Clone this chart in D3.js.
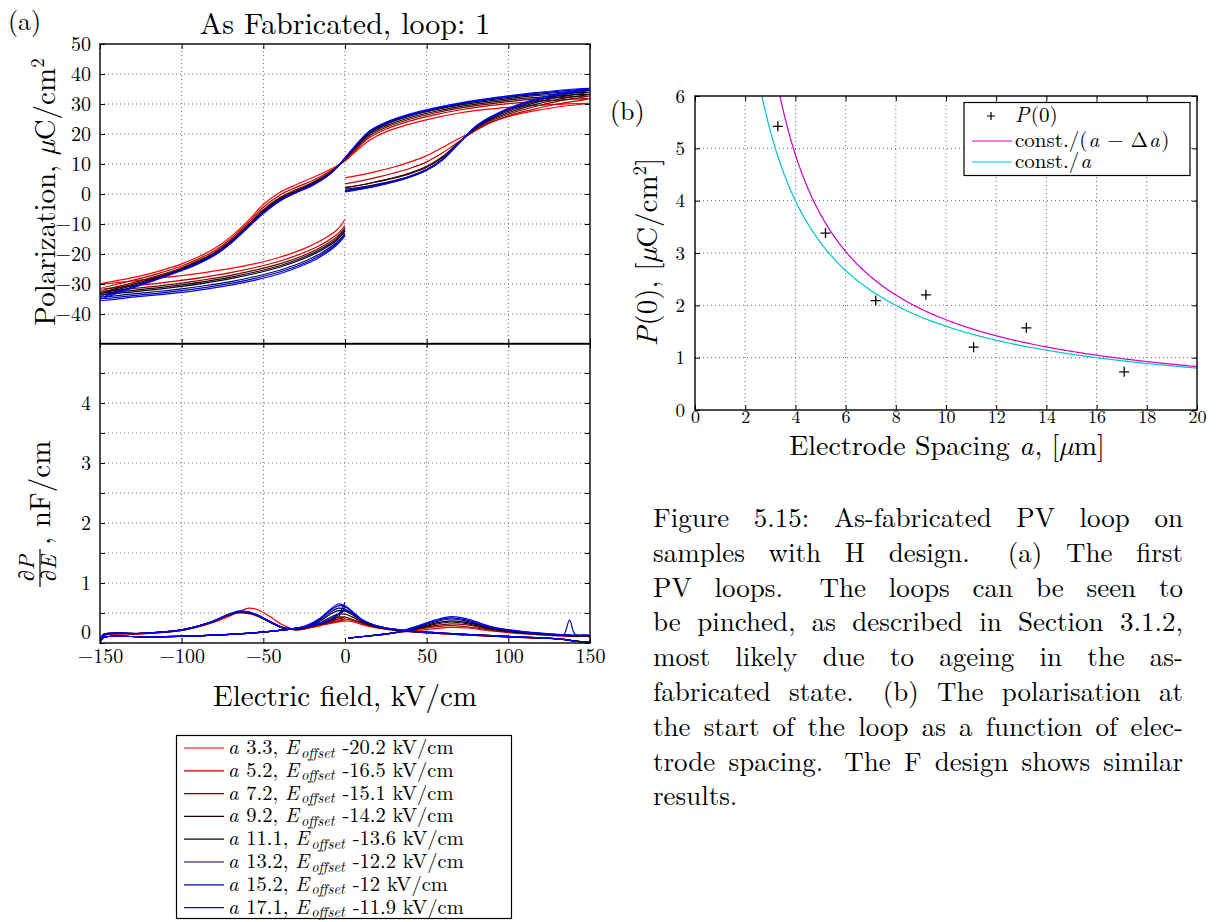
<!DOCTYPE html>
<html>
<head>
<meta charset="utf-8">
<script src="https://cdn.jsdelivr.net/npm/d3@7"></script>
<style>
  body { margin: 0; background: #fff; }
  svg { display: block; }
  svg text { fill: #000; font-family: "Latin Modern Roman", "CMU Serif", "Noto Serif", "Liberation Serif", "DejaVu Serif", "Tinos", "Nimbus Roman", "FreeSerif", "Times New Roman", Times, serif !important; }
</style>
</head>
<body>
<svg id="fig" width="1218" height="922"></svg>
<script>
// ---------- data: panel (a), first PV loops ----------
const spacings = [3.3, 5.2, 7.2, 9.2, 11.1, 13.2, 15.2, 17.1];
const offsets = ["-20.2", "-16.5", "-15.1", "-14.2", "-13.6", "-12.2", "-12", "-11.9"];

// field values (kV/cm) of the three branches of a loop
const riseE = [0, 10, 20, 30, 40, 50, 60, 70, 80, 90, 100, 115, 130, 150];
const fallE = [150, 130, 115, 100, 85, 70, 55, 40, 25, 15, 5, 0, -5, -10, -20, -30, -40, -50, -60, -70, -80, -90, -100, -115, -130, -150];
const returnE = [-150, -130, -115, -100, -85, -70, -55, -40, -25, -15, -5, 0];

// polarization (uC/cm^2), one row per electrode spacing
const pRise = [
  [5.4, 6.4, 7.6, 9.0, 10.7, 12.8, 15.6, 18.6, 21.3, 24.0, 25.8, 27.6, 29.0, 30.3],
  [3.4, 4.4, 5.6, 7.0, 8.6, 10.7, 13.8, 17.6, 21.2, 24.0, 26.1, 28.2, 30.0, 31.8],
  [2.1, 3.0, 4.2, 5.5, 7.1, 9.2, 12.6, 17.4, 21.6, 24.5, 26.6, 29.0, 30.9, 32.7],
  [2.2, 3.0, 4.1, 5.3, 6.8, 8.9, 12.3, 17.3, 21.9, 24.9, 27.1, 29.6, 31.5, 33.3],
  [1.2, 2.0, 3.1, 4.3, 5.9, 8.1, 11.8, 17.2, 22.1, 25.3, 27.6, 30.2, 32.2, 34.0],
  [1.6, 2.3, 3.3, 4.5, 6.0, 8.2, 11.7, 17.1, 22.3, 25.6, 28.0, 30.7, 32.7, 34.6],
  [1.0, 1.8, 2.8, 4.1, 5.7, 7.9, 11.5, 17.0, 22.4, 25.8, 28.3, 31.1, 33.1, 35.0],
  [0.7, 1.6, 2.7, 4.0, 5.7, 7.9, 11.5, 17.0, 22.6, 26.0, 28.6, 31.4, 33.4, 35.3]
];
const pFall = [
  [30.3, 29.9, 29.5, 28.9, 28.1, 27.0, 25.4, 23.4, 20.7, 17.9, 13.4, 11.0, 9.3, 7.9, 5.4, 3.1, 0.5, -3.5, -9.3, -14.3, -18.2, -21.0, -23.3, -25.9, -27.9, -30.0],
  [31.8, 31.3, 30.8, 30.1, 29.2, 28.0, 26.4, 24.4, 21.6, 18.8, 13.9, 11.3, 9.1, 7.3, 4.4, 2.2, -0.4, -4.4, -10.0, -15.0, -18.9, -21.7, -24.0, -26.6, -28.8, -31.6],
  [32.7, 32.1, 31.6, 30.8, 29.8, 28.6, 27.0, 25.0, 22.2, 19.4, 14.3, 11.5, 9.0, 6.9, 3.8, 1.5, -1.2, -5.2, -10.6, -15.6, -19.5, -22.3, -24.6, -27.3, -29.6, -32.4],
  [33.3, 32.7, 32.1, 31.3, 30.3, 29.1, 27.5, 25.5, 22.7, 19.9, 14.6, 11.6, 8.9, 6.7, 3.5, 1.1, -1.6, -5.6, -10.9, -15.9, -19.8, -22.6, -24.9, -27.7, -30.1, -33.0],
  [34.0, 33.3, 32.7, 31.8, 30.8, 29.6, 28.0, 26.0, 23.2, 20.3, 14.9, 11.8, 8.9, 6.5, 3.2, 0.8, -1.9, -5.9, -11.1, -16.1, -20.0, -22.8, -25.1, -28.0, -30.5, -33.5],
  [34.6, 33.8, 33.1, 32.2, 31.2, 29.9, 28.3, 26.3, 23.5, 20.6, 15.1, 11.9, 8.9, 6.4, 3.0, 0.6, -2.1, -6.2, -11.3, -16.3, -20.2, -23.0, -25.3, -28.2, -30.9, -34.2],
  [35.0, 34.2, 33.4, 32.5, 31.4, 30.1, 28.5, 26.5, 23.7, 20.8, 15.2, 12.0, 8.8, 6.3, 2.9, 0.5, -2.3, -6.4, -11.4, -16.4, -20.4, -23.2, -25.4, -28.4, -31.1, -34.8],
  [35.3, 34.5, 33.7, 32.7, 31.6, 30.3, 28.7, 26.7, 23.9, 21.0, 15.3, 12.0, 8.8, 6.2, 2.8, 0.4, -2.4, -6.5, -11.5, -16.5, -20.5, -23.3, -25.5, -28.5, -31.3, -35.4]
];
const pReturn = [
  [-30.0, -29.0, -28.1, -27.2, -26.1, -24.8, -23.2, -21.1, -18.2, -15.6, -12.0, -8.5],
  [-31.6, -30.6, -29.8, -28.8, -27.6, -26.2, -24.5, -22.4, -19.5, -17.0, -13.5, -10.5],
  [-32.4, -31.5, -30.7, -29.7, -28.5, -27.1, -25.4, -23.3, -20.4, -17.8, -14.3, -11.3],
  [-33.0, -32.1, -31.3, -30.3, -29.1, -27.7, -26.0, -23.9, -21.0, -18.4, -14.9, -11.9],
  [-33.5, -32.6, -31.8, -30.8, -29.6, -28.2, -26.5, -24.4, -21.5, -18.9, -15.4, -12.4],
  [-34.2, -33.3, -32.5, -31.6, -30.5, -29.2, -27.5, -25.4, -22.5, -19.8, -16.1, -13.1],
  [-34.8, -33.9, -33.1, -32.2, -31.1, -29.8, -28.1, -26.0, -23.1, -20.4, -16.6, -13.6],
  [-35.4, -34.4, -33.6, -32.8, -31.7, -30.4, -28.7, -26.6, -23.6, -20.9, -17.0, -14.0]
];

// dP/dE (nF/cm) along the same loop
const dRiseE = [2, 15, 30, 45, 55, 65, 75, 90, 110, 130, 134, 137.5, 141, 150];
const dFallE = [150, 130, 100, 70, 45, 30, 18, 10, 4, 0, -4, -9, -15, -22, -30, -38, -46, -53, -59, -65, -72, -82, -100, -125, -148, -150];
const dReturnE = [-150, -148, -120, -90, -60, -40, -25, -12, -4, 0];
const dRise = [
  [0.08, 0.12, 0.17, 0.21, 0.24, 0.26, 0.25, 0.2, 0.15, 0.12, 0.115, 0.11, 0.105, 0.1],
  [0.08, 0.12, 0.17, 0.23, 0.27, 0.29, 0.27, 0.21, 0.16, 0.125, 0.12, 0.115, 0.11, 0.1],
  [0.08, 0.12, 0.17, 0.24, 0.29, 0.32, 0.3, 0.22, 0.16, 0.13, 0.125, 0.12, 0.115, 0.1],
  [0.08, 0.12, 0.17, 0.25, 0.31, 0.35, 0.32, 0.23, 0.17, 0.13, 0.125, 0.12, 0.115, 0.11],
  [0.08, 0.12, 0.17, 0.26, 0.33, 0.37, 0.34, 0.24, 0.17, 0.135, 0.13, 0.125, 0.12, 0.11],
  [0.08, 0.12, 0.17, 0.27, 0.35, 0.4, 0.36, 0.25, 0.18, 0.14, 0.135, 0.13, 0.125, 0.11],
  [0.08, 0.12, 0.17, 0.28, 0.37, 0.42, 0.38, 0.26, 0.18, 0.14, 0.14, 0.38, 0.14, 0.12],
  [0.08, 0.12, 0.17, 0.29, 0.38, 0.44, 0.4, 0.27, 0.19, 0.145, 0.14, 0.135, 0.13, 0.12]
];
const dFall = [
  [0.03, 0.07, 0.1, 0.14, 0.18, 0.21, 0.26, 0.31, 0.36, 0.37, 0.37, 0.34, 0.29, 0.25, 0.22, 0.3, 0.44, 0.55, 0.58, 0.52, 0.43, 0.33, 0.21, 0.15, 0.12, 0.01],
  [0.03, 0.07, 0.1, 0.14, 0.18, 0.22, 0.27, 0.33, 0.38, 0.4, 0.4, 0.36, 0.3, 0.25, 0.22, 0.26, 0.35, 0.44, 0.49, 0.5, 0.45, 0.34, 0.21, 0.15, 0.12, 0.01],
  [0.03, 0.07, 0.1, 0.14, 0.18, 0.22, 0.27, 0.34, 0.4, 0.43, 0.43, 0.39, 0.32, 0.26, 0.22, 0.25, 0.35, 0.45, 0.5, 0.51, 0.46, 0.34, 0.21, 0.16, 0.13, 0.01],
  [0.03, 0.07, 0.1, 0.15, 0.18, 0.22, 0.28, 0.36, 0.44, 0.48, 0.48, 0.43, 0.34, 0.27, 0.23, 0.25, 0.35, 0.45, 0.5, 0.51, 0.46, 0.35, 0.22, 0.16, 0.13, 0.01],
  [0.03, 0.07, 0.11, 0.15, 0.19, 0.22, 0.28, 0.37, 0.48, 0.53, 0.54, 0.48, 0.37, 0.28, 0.23, 0.25, 0.35, 0.45, 0.51, 0.52, 0.46, 0.35, 0.22, 0.16, 0.13, 0.01],
  [0.03, 0.07, 0.11, 0.15, 0.19, 0.23, 0.29, 0.38, 0.5, 0.56, 0.58, 0.51, 0.39, 0.29, 0.23, 0.25, 0.35, 0.45, 0.51, 0.52, 0.47, 0.35, 0.22, 0.16, 0.14, 0.01],
  [0.03, 0.07, 0.11, 0.15, 0.19, 0.23, 0.3, 0.39, 0.52, 0.6, 0.62, 0.54, 0.41, 0.3, 0.24, 0.26, 0.36, 0.46, 0.52, 0.53, 0.47, 0.35, 0.22, 0.16, 0.14, 0.01],
  [0.03, 0.07, 0.11, 0.15, 0.19, 0.23, 0.3, 0.4, 0.54, 0.62, 0.65, 0.56, 0.42, 0.31, 0.24, 0.26, 0.36, 0.46, 0.52, 0.53, 0.47, 0.35, 0.22, 0.16, 0.14, 0.01]
];
const dReturn = [
  [0.01, 0.09, 0.1, 0.12, 0.16, 0.21, 0.26, 0.31, 0.35, 0.37],
  [0.01, 0.09, 0.1, 0.12, 0.16, 0.21, 0.26, 0.32, 0.37, 0.4],
  [0.01, 0.09, 0.1, 0.12, 0.16, 0.21, 0.26, 0.33, 0.4, 0.44],
  [0.01, 0.09, 0.1, 0.12, 0.16, 0.21, 0.27, 0.34, 0.44, 0.6],
  [0.01, 0.09, 0.1, 0.12, 0.16, 0.21, 0.27, 0.35, 0.48, 0.68],
  [0.01, 0.09, 0.1, 0.12, 0.16, 0.21, 0.27, 0.35, 0.47, 0.55],
  [0.01, 0.09, 0.1, 0.12, 0.16, 0.21, 0.27, 0.36, 0.48, 0.56],
  [0.01, 0.09, 0.1, 0.12, 0.16, 0.21, 0.27, 0.36, 0.48, 0.57]
];

// ---------- data: panel (b), P(0) against electrode spacing ----------
const p0Spacing = [3.3, 5.2, 7.2, 9.2, 11.1, 13.2, 17.1];
const p0Values = [5.42, 3.38, 2.09, 2.2, 1.2, 1.57, 0.73];
const fitConst = 16.0;   // uC/cm^2 * um
const fitShift = 0.72;   // delta a, um

// tick values
const fieldTicks = [-150, -100, -50, 0, 50, 100, 150];
const polTicks = [-40, -30, -20, -10, 0, 10, 20, 30, 40, 50];
const capTicks = [0, 0.5, 1, 1.5, 2, 2.5, 3, 3.5, 4, 4.5];
const spacingTicks = [0, 2, 4, 6, 8, 10, 12, 14, 16, 18, 20];
const p0Ticks = [0, 1, 2, 3, 4, 5, 6];

// ---------- styling ----------
const seriesColors = ["#ff0000", "#b60000", "#6d0000", "#240000", "#000024", "#00006d", "#0000b6", "#0000ff"];
const GRID = "#6a6a6a";
const MU = "\u00b5";
const intFmt = d3.format("d");

const svg = d3.select("#fig");

function styleAxis(g, size) {
  g.attr("font-family", null).attr("font-size", size);
  g.select(".domain").remove();
  g.selectAll(".tick line").attr("stroke", "#000").attr("stroke-width", 1);
  g.selectAll(".tick text").attr("fill", "#000");
}
function frame(x0, y0, w, h) {
  svg.append("rect").attr("x", x0).attr("y", y0).attr("width", w).attr("height", h)
    .attr("fill", "none").attr("stroke", "#000").attr("stroke-width", 1.4);
}
function gridLines(g, xs, ys, xVals, yVals) {
  const [x0, x1] = xs.range(), [y0, y1] = ys.range();
  g.selectAll(null).data(xVals).join("line")
    .attr("x1", d => xs(d)).attr("x2", d => xs(d)).attr("y1", y0).attr("y2", y1)
    .attr("stroke", GRID).attr("stroke-width", 1).attr("stroke-dasharray", "1,3");
  g.selectAll(null).data(yVals).join("line")
    .attr("y1", d => ys(d)).attr("y2", d => ys(d)).attr("x1", x0).attr("x2", x1)
    .attr("stroke", GRID).attr("stroke-width", 1).attr("stroke-dasharray", "1,3");
}

// ---------- panel (a) ----------
const xE = d3.scaleLinear().domain([-150, 150]).range([100, 590]);
const yP = d3.scaleLinear().domain([-50, 50]).range([344, 44]);
const yD = d3.scaleLinear().domain([0, 5]).range([643, 343]);

svg.append("defs").call(d => {
  d.append("clipPath").attr("id", "clipTop").append("rect").attr("x", 100).attr("y", 44).attr("width", 490).attr("height", 300);
  d.append("clipPath").attr("id", "clipBot").append("rect").attr("x", 100).attr("y", 343).attr("width", 490).attr("height", 300);
  d.append("clipPath").attr("id", "clipB").append("rect").attr("x", 695).attr("y", 96).attr("width", 502).attr("height", 314);
});

gridLines(svg.append("g"), xE, yP, [-100, -50, 0, 50, 100], [-40, -30, -20, -10, 0, 10, 20, 30, 40]);
gridLines(svg.append("g"), xE, yD, [-100, -50, 0, 50, 100], [0.5, 1, 1.5, 2, 2.5, 3, 3.5, 4, 4.5]);

// loop curves
const loopLine = d3.line().x(d => xE(d[0])).y(d => yP(d[1])).curve(d3.curveCatmullRom.alpha(0.5));
const derivLine = d3.line().x(d => xE(d[0])).y(d => yD(d[1])).curve(d3.curveCatmullRom.alpha(0.5));

const loopG = svg.append("g").attr("clip-path", "url(#clipTop)");
const derivG = svg.append("g").attr("clip-path", "url(#clipBot)");
spacings.forEach((a, i) => {
  const pts = riseE.map((e, k) => [e, pRise[i][k]])
    .concat(fallE.slice(1).map((e, k) => [e, pFall[i][k + 1]]))
    .concat(returnE.slice(1).map((e, k) => [e, pReturn[i][k + 1]]));
  loopG.append("path").attr("d", loopLine(pts)).attr("fill", "none")
    .attr("stroke", seriesColors[i]).attr("stroke-width", 1.2);

  const dpts = dRiseE.map((e, k) => [e, dRise[i][k]])
    .concat(dFallE.map((e, k) => [e, dFall[i][k]]))
    .concat(dReturnE.map((e, k) => [e, dReturn[i][k]]));
  derivG.append("path").attr("d", derivLine(dpts)).attr("fill", "none")
    .attr("stroke", seriesColors[i]).attr("stroke-width", 1.2);
});

// axes, panel (a) top
svg.append("g").attr("transform", "translate(100,0)")
  .call(d3.axisLeft(yP).tickValues(polTicks).tickSizeInner(-5).tickSizeOuter(0).tickPadding(9).tickFormat(intFmt))
  .call(g => styleAxis(g, 20));
svg.append("g").attr("transform", "translate(590,0)")
  .call(d3.axisRight(yP).tickValues(polTicks).tickSizeInner(-5).tickSizeOuter(0).tickFormat(""))
  .call(g => styleAxis(g, 20));
svg.append("g").attr("transform", "translate(0,44)")
  .call(d3.axisTop(xE).tickValues(fieldTicks).tickSizeInner(-5).tickSizeOuter(0).tickFormat(""))
  .call(g => styleAxis(g, 20));
svg.append("g").attr("transform", "translate(0,344)")
  .call(d3.axisBottom(xE).tickValues(fieldTicks).tickSizeInner(-5).tickSizeOuter(0).tickFormat(""))
  .call(g => styleAxis(g, 20));
// axes, panel (a) bottom
svg.append("g").attr("transform", "translate(100,0)")
  .call(d3.axisLeft(yD).tickValues(capTicks).tickSizeInner(-5).tickSizeOuter(0).tickPadding(9)
    .tickFormat(d => Number.isInteger(d) ? intFmt(d) : ""))
  .call(g => styleAxis(g, 20))
  .call(g => g.selectAll(".tick text").filter(d => d === 0).attr("dy", "-0.25em"));
svg.append("g").attr("transform", "translate(590,0)")
  .call(d3.axisRight(yD).tickValues(capTicks).tickSizeInner(-5).tickSizeOuter(0).tickFormat(""))
  .call(g => styleAxis(g, 20));
svg.append("g").attr("transform", "translate(0,343)")
  .call(d3.axisTop(xE).tickValues(fieldTicks).tickSizeInner(-5).tickSizeOuter(0).tickFormat(""))
  .call(g => styleAxis(g, 20));
svg.append("g").attr("transform", "translate(0,643)")
  .call(d3.axisBottom(xE).tickValues(fieldTicks).tickSizeInner(-5).tickSizeOuter(0).tickPadding(6).tickFormat(intFmt))
  .call(g => styleAxis(g, 20));

frame(100, 44, 490, 300);
frame(100, 343.5, 490, 299.5);

// titles and labels, panel (a)
svg.append("text").attr("x", 8).attr("y", 30).attr("font-size", 26).text("(a)");
svg.append("text").attr("x", 345).attr("y", 34).attr("text-anchor", "middle").attr("font-size", 30)
  .text("As Fabricated, loop: 1");

const yLab = svg.append("text").attr("transform", "translate(55,192) rotate(-90)")
  .attr("text-anchor", "middle").attr("font-size", 29);
yLab.append("tspan").text("Polarization, ");
yLab.append("tspan").attr("font-style", "italic").text(MU);
yLab.append("tspan").text("C/cm");
yLab.append("tspan").attr("font-size", 19).attr("dy", -11).text("2");

// dP/dE label with a stacked fraction
const dLab = svg.append("g").attr("transform", "translate(50,512) rotate(-90)");
const frac = dLab.append("g").attr("font-size", 22);
const num = frac.append("text").attr("x", -56).attr("y", -16).attr("text-anchor", "middle");
num.append("tspan").text("∂");
num.append("tspan").attr("font-style", "italic").text("P");
const den = frac.append("text").attr("x", -56).attr("y", 6).attr("text-anchor", "middle");
den.append("tspan").text("∂");
den.append("tspan").attr("font-style", "italic").text("E");
dLab.append("line").attr("x1", -75).attr("x2", -37).attr("y1", -10).attr("y2", -10)
  .attr("stroke", "#000").attr("stroke-width", 1.2);
dLab.append("text").attr("x", -33).attr("y", 0).attr("font-size", 29).text(", nF/cm");

svg.append("text").attr("x", 345).attr("y", 706).attr("text-anchor", "middle").attr("font-size", 29)
  .text("Electric field, kV/cm");

// legend, panel (a)
const legA = svg.append("g");
legA.append("rect").attr("x", 176.5).attr("y", 735.5).attr("width", 335).attr("height", 183)
  .attr("fill", "#fff").attr("stroke", "#000").attr("stroke-width", 1.2);
spacings.forEach((a, i) => {
  const cy = 748 + i * 22.8;
  legA.append("line").attr("x1", 184).attr("x2", 224).attr("y1", cy).attr("y2", cy)
    .attr("stroke", seriesColors[i]).attr("stroke-width", 1.2);
  const t = legA.append("text").attr("x", 228).attr("y", cy + 6).attr("font-size", 20.5);
  t.append("tspan").attr("font-style", "italic").text("a");
  t.append("tspan").attr("dx", 1).text(" " + a + ", ");
  t.append("tspan").attr("font-style", "italic").text("E");
  t.append("tspan").attr("font-style", "italic").attr("font-size", 14.5).attr("dx", 2).attr("dy", 3.5).text("offset");
  t.append("tspan").attr("dx", 1).attr("dy", -3.5).text(" " + offsets[i] + " kV/cm");
});

// ---------- panel (b) ----------
const xA = d3.scaleLinear().domain([0, 20]).range([695, 1197]);
const yB = d3.scaleLinear().domain([0, 6]).range([410, 96]);

gridLines(svg.append("g"), xA, yB, spacingTicks.slice(1, -1), p0Ticks.slice(1, -1));

const fitG = svg.append("g").attr("clip-path", "url(#clipB)");
const fitLine = d3.line().x(d => xA(d[0])).y(d => yB(d[1]));
const aSamples = d3.range(2.4, 20.001, 0.05);
fitG.append("path").attr("d", fitLine(aSamples.filter(a => a > fitShift + 2.5).map(a => [a, fitConst / (a - fitShift)])))
  .attr("fill", "none").attr("stroke", "#cc00cc").attr("stroke-width", 1.2);
fitG.append("path").attr("d", fitLine(aSamples.map(a => [a, fitConst / a])))
  .attr("fill", "none").attr("stroke", "#00c4c8").attr("stroke-width", 1.2);

svg.append("g").selectAll("path").data(p0Spacing).join("path")
  .attr("transform", (a, k) => `translate(${xA(a)},${yB(p0Values[k])})`)
  .attr("d", "M-5,0H5M0,-5V5").attr("stroke", "#000").attr("stroke-width", 1.3).attr("fill", "none");

svg.append("g").attr("transform", "translate(695,0)")
  .call(d3.axisLeft(yB).tickValues(p0Ticks).tickSizeInner(-5).tickSizeOuter(0).tickPadding(10).tickFormat(intFmt))
  .call(g => styleAxis(g, 19));
svg.append("g").attr("transform", "translate(1197,0)")
  .call(d3.axisRight(yB).tickValues(p0Ticks).tickSizeInner(-5).tickSizeOuter(0).tickFormat(""))
  .call(g => styleAxis(g, 19));
svg.append("g").attr("transform", "translate(0,96)")
  .call(d3.axisTop(xA).tickValues(spacingTicks).tickSizeInner(-5).tickSizeOuter(0).tickFormat(""))
  .call(g => styleAxis(g, 19));
svg.append("g").attr("transform", "translate(0,410)")
  .call(d3.axisBottom(xA).tickValues(spacingTicks).tickSizeInner(-5).tickSizeOuter(0).tickPadding(0).tickFormat(intFmt))
  .call(g => styleAxis(g, 18));
frame(695, 96, 502, 314);

svg.append("text").attr("x", 610).attr("y", 120).attr("font-size", 26).text("(b)");
const xbLab = svg.append("text").attr("x", 947).attr("y", 455).attr("text-anchor", "middle").attr("font-size", 28);
xbLab.append("tspan").text("Electrode Spacing ");
xbLab.append("tspan").attr("font-style", "italic").text("a");
xbLab.append("tspan").attr("dx", 1).text(", [");
xbLab.append("tspan").attr("font-style", "italic").text(MU);
xbLab.append("tspan").text("m]");

const ybLab = svg.append("text").attr("transform", "translate(657,252) rotate(-90)")
  .attr("text-anchor", "middle").attr("font-size", 29);
ybLab.append("tspan").attr("font-style", "italic").text("P");
ybLab.append("tspan").attr("dx", 1).text("(0), [");
ybLab.append("tspan").attr("font-style", "italic").text(MU);
ybLab.append("tspan").text("C/cm");
ybLab.append("tspan").attr("font-size", 19).attr("dy", -11).text("2");
ybLab.append("tspan").attr("dy", 11).text("]");

// legend, panel (b)
const legB = svg.append("g");
legB.append("rect").attr("x", 964).attr("y", 102.5).attr("width", 226).attr("height", 73)
  .attr("fill", "#fff").attr("stroke", "#000").attr("stroke-width", 1.2);
legB.append("path").attr("transform", "translate(991,116)").attr("d", "M-4,0H4M0,-4V4")
  .attr("stroke", "#000").attr("stroke-width", 1.2);
const lb1 = legB.append("text").attr("x", 1015).attr("y", 122).attr("font-size", 21);
lb1.append("tspan").attr("font-style", "italic").text("P");
lb1.append("tspan").attr("dx", 1.5).text("(0)");
legB.append("line").attr("x1", 972).attr("x2", 1012).attr("y1", 141).attr("y2", 141)
  .attr("stroke", "#cc00cc").attr("stroke-width", 1.2);
const lb2 = legB.append("text").attr("x", 1015).attr("y", 147).attr("font-size", 21);
lb2.append("tspan").text("const./(");
lb2.append("tspan").attr("font-style", "italic").attr("dx", 1).text("a");
lb2.append("tspan").attr("dx", 1).text(" − Δ");
lb2.append("tspan").attr("font-style", "italic").attr("dx", 1).text("a");
lb2.append("tspan").attr("dx", 1.5).text(")");
legB.append("line").attr("x1", 972).attr("x2", 1012).attr("y1", 162).attr("y2", 162)
  .attr("stroke", "#00c4c8").attr("stroke-width", 1.2);
const lb3 = legB.append("text").attr("x", 1015).attr("y", 168).attr("font-size", 21);
lb3.append("tspan").text("const./");
lb3.append("tspan").attr("font-style", "italic").attr("dx", 1).text("a");

// ---------- caption, justified between two margins ----------
const captionLines = [
  "Figure 5.15:  As-fabricated PV loop on",
  "samples with H design.  (a) The first",
  "PV loops.  The loops can be seen to",
  "be pinched, as described in Section 3.1.2,",
  "most likely due to ageing in the as-",
  "fabricated state.  (b) The polarisation at",
  "the start of the loop as a function of elec-",
  "trode spacing. The F design shows similar",
  "results."
];
const capLeft = 653, capRight = 1183;
const capG = svg.append("g");
// size the caption so that its widest line just fills the measure
const probe = capG.append("text").attr("font-size", 24).text(captionLines[3]);
const capSize = Math.min(27, 24 * (capRight - capLeft - 6) / probe.node().getComputedTextLength());
probe.remove();
capG.attr("font-size", capSize);
captionLines.forEach((line, li) => {
  const y = 527 + li * 34.8;
  const words = line.split(/\s+/);
  const nodes = words.map(w => capG.append("text").attr("y", y).text(w));
  const widths = nodes.map(n => n.node().getComputedTextLength());
  const weights = words.slice(0, -1).map(w => /[.:]$/.test(w) && !/^\d/.test(w) ? 1.6 : 1);
  const last = li === captionLines.length - 1;
  const unit = last ? capSize * 0.3 : (capRight - capLeft - d3.sum(widths)) / d3.sum(weights);
  let x = capLeft;
  nodes.forEach((n, k) => {
    n.attr("x", x);
    x += widths[k] + (k < weights.length ? unit * weights[k] : 0);
  });
});
</script>
</body>
</html>
